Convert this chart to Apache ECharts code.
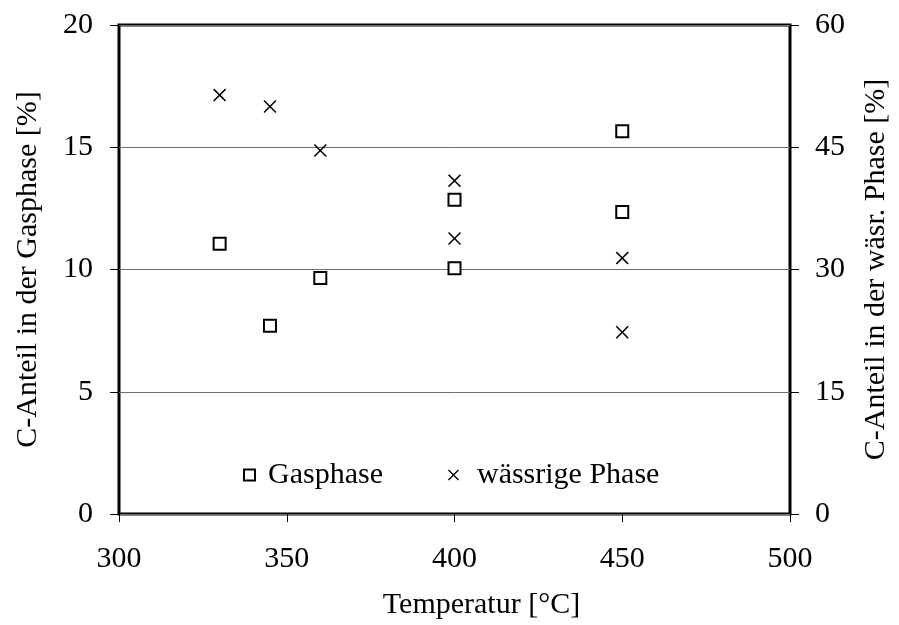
<!DOCTYPE html>
<html>
<head>
<meta charset="utf-8">
<script src="https://cdn.jsdelivr.net/npm/echarts@6/dist/echarts.min.js"></script>
<style>
  html, body { margin: 0; padding: 0; background: #fff; overflow: hidden; }
  #chart { position: fixed; left: 0; top: 0; width: 899px; height: 625px; }
</style>
</head>
<body>
<div id="chart"></div>
<script>
// Temperatures [°C] of the runs
const tempGas = [330, 345, 360, 400, 400, 450, 450];
// Carbon fraction in the gas phase [%] (left axis)
const gasShare = [11.05, 7.7, 9.65, 12.85, 10.05, 15.65, 12.35];

const tempAq = [330, 345, 360, 400, 400, 450, 450];
// Carbon fraction in the aqueous phase [%] (right axis)
const aqShare = [51.4, 50.0, 44.6, 40.9, 33.8, 31.4, 22.3];

const xTicks = [300, 350, 400, 450, 500];
const yLeftTicks = [0, 5, 10, 15, 20];
const yRightTicks = [0, 15, 30, 45, 60];

const FONT = 'Liberation Serif';
const crossPath = 'path://M0,1L1,0L6,5L11,0L12,1L7,6L12,11L11,12L6,7L1,12L0,11L5,6Z';

const chart = echarts.init(document.getElementById('chart'), null, { renderer: 'canvas', width: 899, height: 625 });

const txt = { fontFamily: FONT, fontSize: 30, color: '#000' };

chart.setOption({
  animation: false,
  backgroundColor: '#fff',
  grid: {
    left: 119, right: 102, top: 25, bottom: 108,
    show: true, borderColor: '#000', borderWidth: 3, backgroundColor: 'transparent'
  },
  legend: {
    left: 238, top: 455,
    itemWidth: 11, itemHeight: 11, itemGap: 65,
    textStyle: txt,
    data: [
      { name: 'Gasphase', textStyle: { padding: [0, 0, 0, 8] } },
      { name: 'wässrige Phase', textStyle: { padding: [0, 0, 0, 13] } }
    ]
  },
  xAxis: {
    type: 'value',
    min: xTicks[0], max: xTicks[xTicks.length - 1], interval: 50,
    name: 'Temperatur [°C]', nameLocation: 'middle', nameGap: 76,
    nameTextStyle: Object.assign({ padding: [0, 0, 0, 54] }, txt),
    axisLine: { show: false },
    axisTick: { show: true, inside: false, length: 8, lineStyle: { color: '#000', width: 1 } },
    axisLabel: Object.assign({ margin: 30 }, txt),
    splitLine: { show: false }
  },
  yAxis: [
    {
      type: 'value', position: 'left',
      min: yLeftTicks[0], max: yLeftTicks[yLeftTicks.length - 1], interval: 5,
      name: 'C-Anteil in der Gasphase [%]', nameLocation: 'middle', nameGap: 76,
      nameTextStyle: txt,
      axisLine: { show: false },
      axisTick: { show: true, length: 9, lineStyle: { color: '#000', width: 1 } },
      axisLabel: Object.assign({ margin: 26 }, txt),
      splitLine: { show: true, lineStyle: { color: '#6e6e6e', width: 1 } }
    },
    {
      type: 'value', position: 'right',
      min: yRightTicks[0], max: yRightTicks[yRightTicks.length - 1], interval: 15,
      name: 'C-Anteil in der wäsr. Phase [%]', nameLocation: 'middle', nameGap: 71,
      nameTextStyle: txt,
      axisLine: { show: false },
      axisTick: { show: true, length: 9, lineStyle: { color: '#000', width: 1 } },
      axisLabel: Object.assign({ margin: 25 }, txt),
      splitLine: { show: false }
    }
  ],
  series: [
    {
      name: 'Gasphase', type: 'scatter', yAxisIndex: 0,
      symbol: 'rect', symbolSize: 12,
      itemStyle: { color: '#fff', borderColor: '#000', borderWidth: 2, opacity: 1 },
      data: tempGas.map((t, i) => [t, gasShare[i]]),
      z: 3
    },
    {
      name: 'wässrige Phase', type: 'scatter', yAxisIndex: 1,
      symbol: crossPath, symbolSize: 13,
      itemStyle: { color: '#000', borderWidth: 0, opacity: 1 },
      data: tempAq.map((t, i) => [t, aqShare[i]]),
      z: 3
    }
  ]
});
</script>
</body>
</html>
